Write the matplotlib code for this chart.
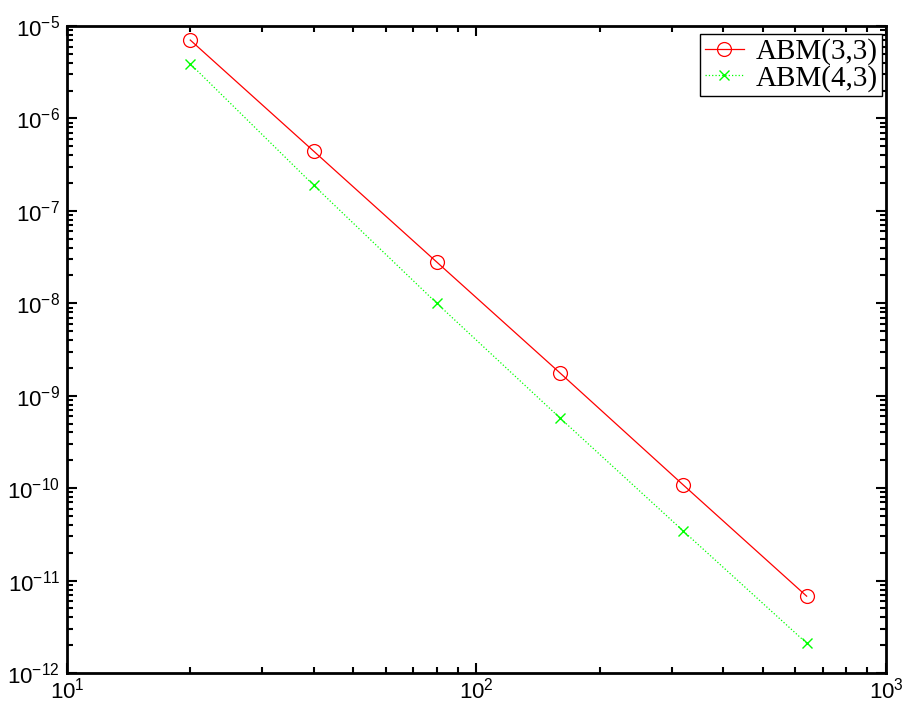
import matplotlib
matplotlib.use("Agg")
import matplotlib.pyplot as plt
from matplotlib.ticker import LogLocator, NullFormatter

# steps and errors
n_steps = [20, 40, 80, 160, 320, 640]
err_abm33 = [7.05e-6, 4.44e-7, 2.79e-8, 1.76e-9, 1.08e-10, 6.78e-12]
err_abm43 = [3.9e-6, 1.9e-7, 1.0e-8, 5.73e-10, 3.43e-11, 2.1e-12]
labels = ['ABM(3,3)', 'ABM(4,3)']

plt.rcParams['font.family'] = ['Liberation Sans', 'DejaVu Sans']
plt.rcParams['mathtext.fontset'] = 'custom'
plt.rcParams['mathtext.rm'] = 'Liberation Sans'
plt.rcParams['mathtext.it'] = 'Liberation Sans:italic'
plt.rcParams['mathtext.bf'] = 'Liberation Sans:bold'

fig = plt.figure(figsize=(9.04, 7.09), dpi=100)
ax = fig.add_axes([0.0741, 0.0508, 0.906, 0.9125])

ax.loglog(n_steps, err_abm33, '-', color='red', lw=0.9, marker='o',
          ms=10, mfc='none', mec='red', mew=0.9, label=labels[0])
ax.loglog(n_steps, err_abm43, ':', color='#00ff00', lw=0.9, marker='x',
          ms=7, mec='#00ff00', mew=1.0, label=labels[1])

ax.set_xlim(10, 1000)
ax.set_ylim(1e-12, 1e-5)

ax.xaxis.set_major_locator(LogLocator(base=10, numticks=10))
ax.yaxis.set_major_locator(LogLocator(base=10, numticks=20))
ax.xaxis.set_minor_locator(LogLocator(base=10, subs=range(2, 10), numticks=20))
ax.yaxis.set_minor_locator(LogLocator(base=10, subs=range(2, 10), numticks=20))
ax.xaxis.set_minor_formatter(NullFormatter())
ax.yaxis.set_minor_formatter(NullFormatter())

for s in ax.spines.values():
    s.set_linewidth(2)
ax.tick_params(which='both', direction='in', top=True, right=True,
               width=1.5, labelsize=16)
ax.tick_params(axis='y', which='major', length=7, pad=5)
ax.tick_params(axis='x', which='major', length=7, pad=3)
ax.tick_params(which='minor', length=4)

leg = ax.legend(loc='upper right', bbox_to_anchor=(0.9955, 0.988),
                prop={'family': 'Liberation Serif', 'size': 21},
                fancybox=False, edgecolor='black', framealpha=1,
                borderaxespad=0.0, handlelength=1.35, borderpad=0.15,
                labelspacing=0.0, handletextpad=0.4)
leg.get_frame().set_linewidth(1.0)

fig.savefig('out.png', dpi=100)
